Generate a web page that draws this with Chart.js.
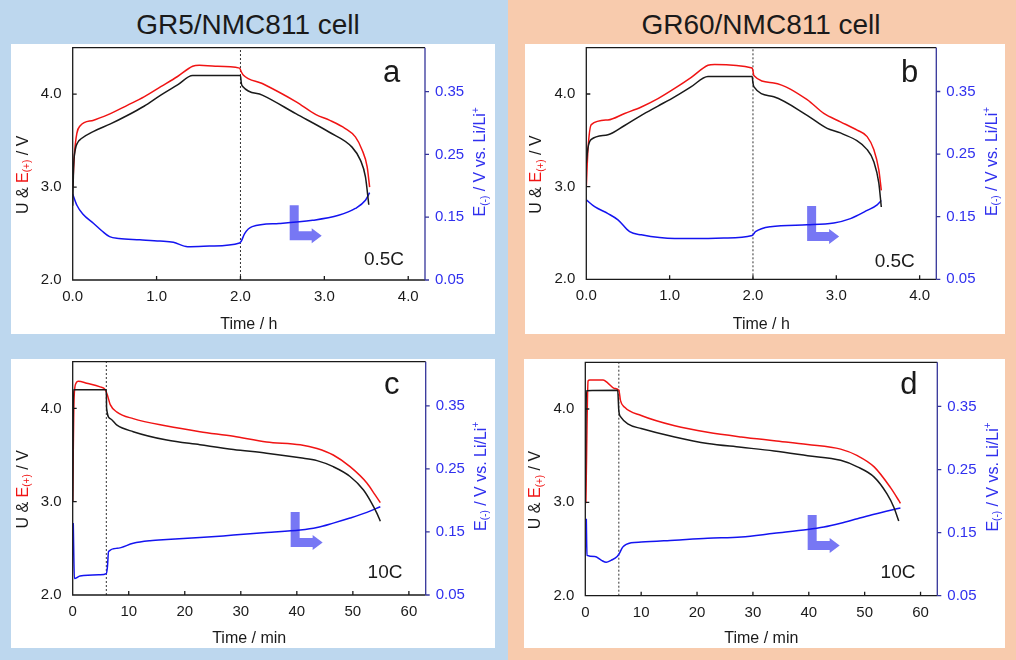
<!DOCTYPE html>
<html><head><meta charset="utf-8">
<script src="https://cdn.jsdelivr.net/npm/chart.js@4.4.0/dist/chart.umd.min.js"></script>
<style>
html,body{margin:0;padding:0;background:#fff;}
#wrap{position:relative;width:1016px;height:660px;overflow:hidden;font-family:"Liberation Sans",Arial,sans-serif;}
.bg{position:absolute;top:0;height:660px;}
.box{position:absolute;background:#fff;}
.ttl{position:absolute;top:8px;font-size:28px;color:#1a1a1a;text-align:center;width:400px;line-height:34px;}
canvas{position:absolute;}
</style></head><body>
<div id="wrap">
 <div class="bg" style="left:0;width:508px;background:#BDD7EE"></div>
 <div class="bg" style="left:508px;width:508px;background:#F8CBAD"></div>
 <div class="box" style="left:11px;top:44px;width:484px;height:290px"></div>
 <div class="box" style="left:525px;top:44px;width:480px;height:290px"></div>
 <div class="box" style="left:11px;top:359px;width:484px;height:289px"></div>
 <div class="box" style="left:524px;top:359px;width:481px;height:289px"></div>
 <div class="ttl" style="left:48px">GR5/NMC811 cell</div>
 <div class="ttl" style="left:561px">GR60/NMC811 cell</div>
 <canvas id="ca" width="508" height="340" style="left:0;top:0"></canvas>
 <canvas id="cb" width="508" height="340" style="left:508px;top:0"></canvas>
 <canvas id="cc" width="508" height="330" style="left:0;top:330px"></canvas>
 <canvas id="cd" width="508" height="330" style="left:508px;top:330px"></canvas>
</div>
<script>
// ---------- DATA ----------
// Tick labels
const hourTicks = [0, 1, 2, 3, 4];
const minTicks = [0, 10, 20, 30, 40, 50, 60];
const cellTicks = [2, 3, 4];
const negTicks = [0.05, 0.15, 0.25, 0.35];

// Panel a : GR5, 0.5C (time in h)
const aUTime = [0.0,0.01,0.03,0.06,0.1,0.25,0.45,0.65,0.85,1.05,1.25,1.43,2.0,2.01,2.03,2.26,2.66,3.06,3.33,3.43,3.49,3.53];
const aU     = [2.80,3.20,3.40,3.48,3.52,3.60,3.68,3.77,3.87,3.99,4.10,4.20,4.20,4.12,4.08,3.99,3.79,3.59,3.43,3.29,3.11,2.81];
const aPosTime = [0.0,0.02,0.05,0.09,0.25,0.45,0.65,0.85,1.05,1.25,1.43,1.51,1.7,1.99,2.01,2.03,2.26,2.66,2.9,3.06,3.25,3.37,3.45,3.51,3.54];
const aPos     = [3.0,3.35,3.58,3.66,3.72,3.79,3.88,3.97,4.08,4.19,4.30,4.31,4.30,4.28,4.24,4.21,4.115,3.92,3.78,3.72,3.63,3.54,3.40,3.22,3.0];
const aNegTime = [0.0,0.05,0.12,0.25,0.35,0.44,0.55,0.8,1.04,1.2,1.37,1.63,1.99,2.01,2.05,2.14,2.46,2.86,3.17,3.37,3.49,3.54];
const aNeg     = [0.187,0.169,0.155,0.140,0.128,0.119,0.116,0.114,0.112,0.110,0.103,0.104,0.109,0.112,0.124,0.135,0.140,0.145,0.153,0.164,0.177,0.189];

// Panel b : GR60, 0.5C (time in h)
const bUTime = [0,0.02,0.06,0.26,0.46,0.66,0.86,1.06,1.26,1.46,1.99,2.0,2.01,2.25,2.65,2.89,3.05,3.37,3.45,3.51,3.54];
const bU     = [3.25,3.42,3.51,3.56,3.66,3.77,3.87,3.97,4.08,4.19,4.19,4.12,4.08,3.97,3.77,3.63,3.58,3.40,3.27,3.04,2.78];
const bPosTime = [0,0.02,0.06,0.26,0.46,0.66,0.86,1.06,1.26,1.46,1.54,1.99,2.0,2.01,2.25,2.65,2.85,3.05,3.25,3.37,3.45,3.51,3.54];
const bPos     = [3.0,3.4,3.67,3.72,3.79,3.86,3.95,4.06,4.18,4.31,4.32,4.28,4.25,4.2,4.12,3.94,3.79,3.70,3.61,3.54,3.40,3.18,2.96];
const bNegTime = [0,0.1,0.26,0.38,0.52,0.66,1.06,1.26,1.65,1.99,2.03,2.21,2.65,2.97,3.17,3.37,3.49,3.54];
const bNeg     = [0.177,0.166,0.155,0.145,0.126,0.121,0.115,0.115,0.116,0.120,0.126,0.134,0.137,0.140,0.147,0.160,0.169,0.176];

// Panel c : GR5, 10C (time in min)
const cUTime = [0,0.15,6.0,6.05,6.7,7.9,10.8,16.8,22.7,28.7,34.6,40.6,43.6,46.5,49.5,51.9,53.4,54.3,54.9];
const cU     = [3.0,4.2,4.2,4.0,3.89,3.82,3.75,3.66,3.61,3.56,3.52,3.47,3.44,3.375,3.27,3.125,2.98,2.875,2.79];
const cPosTime = [0,0.25,0.6,1.0,2.5,4.9,5.8,6.2,6.7,7.9,10.8,16.8,22.7,28.7,34.6,40.6,43.6,46.5,49.5,52.5,54.0,54.9];
const cPos     = [3.0,4.12,4.27,4.29,4.27,4.23,4.2,4.14,4.04,3.96,3.89,3.81,3.75,3.70,3.64,3.61,3.57,3.50,3.375,3.20,3.07,2.99];
const cNegTime = [0.1,0.3,1.3,4.9,6.0,6.2,6.4,7.9,10.8,13.8,16.8,22.7,28.7,34.6,40.6,43.6,46.5,49.5,52.5,54.9];
const cNeg     = [0.164,0.076,0.080,0.082,0.084,0.095,0.119,0.124,0.132,0.136,0.138,0.141,0.145,0.149,0.153,0.157,0.164,0.172,0.181,0.190];

// Panel d : GR60, 10C (time in min)
const dUTime = [0,0.2,5.8,6.0,6.4,7.6,10,16,21.9,27.9,33.8,39.8,45.7,48.7,51.7,54.0,55.2,56.1];
const dU     = [3.0,4.195,4.2,3.98,3.91,3.84,3.79,3.70,3.63,3.59,3.55,3.50,3.45,3.38,3.27,3.09,2.95,2.80];
const dPosTime = [0.1,0.5,0.8,3.2,4.0,5.2,6.0,6.3,7.0,10,16,21.9,27.9,33.8,39.8,45.7,48.7,51.7,54.6,56.1,56.4];
const dPos     = [2.99,4.30,4.31,4.31,4.28,4.22,4.2,4.09,4.02,3.93,3.82,3.75,3.70,3.66,3.62,3.57,3.50,3.38,3.16,3.02,2.99];
const dNegTime = [0.18,0.3,1.7,2.9,3.75,4.6,5.7,6.1,6.7,8.2,10,16,21.9,27.9,33.8,39.8,42.7,45.7,48.7,51.7,56.4];
const dNeg     = [0.172,0.114,0.112,0.106,0.103,0.106,0.112,0.117,0.127,0.134,0.135,0.138,0.141,0.143,0.149,0.155,0.159,0.165,0.172,0.179,0.189];

// ---------- RENDERING ----------
const FAM = '"Liberation Sans", Arial, sans-serif';
const BLACK = '#1a1a1a', RED = '#F01414', BLUE = '#1414F0', BLUETXT = '#3030EE', NAVY = '#35359A';
const pts = (xs, ys) => xs.map((x, i) => ({x: x, y: ys[i]}));

function drawRich(ctx, cx, cy, segs, base) {
  ctx.save(); ctx.translate(cx, cy); ctx.rotate(-Math.PI / 2);
  ctx.textBaseline = 'middle'; ctx.textAlign = 'left';
  let total = 0;
  segs.forEach(s => { ctx.font = (s.size || base) + 'px ' + FAM; s.w = ctx.measureText(s.t).width; total += s.w; });
  let x = -total / 2;
  segs.forEach(s => { ctx.font = (s.size || base) + 'px ' + FAM; ctx.fillStyle = s.c; ctx.fillText(s.t, x, s.dy || 0); x += s.w; });
  ctx.restore();
}

function makeChart(id, p) {
  const deco = {
    id: 'deco' + id,
    beforeDatasetsDraw(chart) {
      const ctx = chart.ctx, sx = chart.scales.x, sy2 = chart.scales.y2;
      const x0 = sx.getPixelForValue(p.arrow[0]), y0 = sy2.getPixelForValue(p.arrow[1]);
      ctx.save();
      ctx.fillStyle = 'rgba(100,100,242,0.88)';
      ctx.beginPath();
      ctx.moveTo(x0, y0 - 35); ctx.lineTo(x0 + 9, y0 - 35); ctx.lineTo(x0 + 9, y0 - 9);
      ctx.lineTo(x0 + 22, y0 - 9); ctx.lineTo(x0 + 22, y0 - 12); ctx.lineTo(x0 + 32, y0 - 4.5);
      ctx.lineTo(x0 + 22, y0 + 3); ctx.lineTo(x0 + 22, y0); ctx.lineTo(x0, y0); ctx.closePath();
      ctx.fill();
      ctx.restore();
    },
    afterDraw(chart) {
      const ctx = chart.ctx, a = chart.chartArea;
      const sx = chart.scales.x, sy = chart.scales.y, sy2 = chart.scales.y2;
      ctx.save();
      ctx.lineWidth = 1.3;
      ctx.strokeStyle = BLACK;
      ctx.beginPath();
      ctx.moveTo(a.right, a.top); ctx.lineTo(a.left, a.top); ctx.lineTo(a.left, a.bottom); ctx.lineTo(a.right, a.bottom);
      p.xTicks.forEach(v => { const px = sx.getPixelForValue(v); ctx.moveTo(px, a.bottom); ctx.lineTo(px, a.bottom - 4); });
      cellTicks.forEach(v => { const py = sy.getPixelForValue(v); ctx.moveTo(a.left, py); ctx.lineTo(a.left + 4, py); });
      ctx.stroke();
      ctx.strokeStyle = NAVY;
      ctx.beginPath();
      ctx.moveTo(a.right, a.top); ctx.lineTo(a.right, a.bottom);
      negTicks.forEach(v => { const py = sy2.getPixelForValue(v); ctx.moveTo(a.right, py); ctx.lineTo(a.right + 4, py); });
      ctx.stroke();
      // axis titles
      const cy = (a.top + a.bottom) / 2;
      drawRich(ctx, a.left - 49.5, cy + 11, [
        {t: 'U & ', c: BLACK}, {t: 'E', c: RED}, {t: '(+)', c: RED, size: 10, dy: 4}, {t: ' / V', c: BLACK}], 16);
      drawRich(ctx, a.right + 56, cy - 2, [
        {t: 'E', c: BLUETXT}, {t: '(-)', c: BLUETXT, size: 10, dy: 4}, {t: ' / V vs. Li/Li', c: BLUETXT}, {t: '+', c: BLUETXT, size: 10, dy: -5}], 16);
      // panel letter and C-rate
      ctx.fillStyle = BLACK; ctx.textAlign = 'center'; ctx.textBaseline = 'alphabetic';
      ctx.font = '31px ' + FAM;
      ctx.fillText(p.letter, a.right + p.letterPos[0], a.top + p.letterPos[1]);
      ctx.font = '19px ' + FAM;
      ctx.fillText(p.rate, a.right + p.ratePos[0], a.bottom + p.ratePos[1]);
      ctx.restore();
    }
  };
  const tickFont = {size: 15, family: FAM};
  return new Chart(document.getElementById(id), {
    type: 'line',
    data: {
      datasets: [
        {data: pts(p.u[0], p.u[1]), borderColor: BLACK, yAxisID: 'y'},
        {data: pts(p.pos[0], p.pos[1]), borderColor: RED, yAxisID: 'y'},
        {data: pts(p.neg[0], p.neg[1]), borderColor: BLUE, yAxisID: 'y2'},
        {data: [{x: p.switchAt, y: 2}, {x: p.switchAt, y: 4.5}], borderColor: '#333', borderWidth: 1, borderDash: [2, 2], yAxisID: 'y', cubicInterpolationMode: 'default', tension: 0}
      ]
    },
    options: {
      responsive: false, animation: false, events: [],
      layout: {padding: {top: p.area.t, bottom: p.H - p.boxBottom, left: 0, right: 0}},
      elements: {point: {radius: 0}, line: {borderWidth: 1.5, fill: false, cubicInterpolationMode: 'monotone'}},
      plugins: {legend: {display: false}, tooltip: {enabled: false}},
      scales: {
        x: {
          type: 'linear', min: 0, max: p.xMax,
          afterBuildTicks: s => { s.ticks = p.xTicks.map(v => ({value: v})); },
          afterFit: s => { s.height = p.boxBottom - p.area.b; },
          ticks: {callback: v => Number(v).toFixed(p.xDec), font: tickFont, color: BLACK, padding: 8, maxRotation: 0, autoSkip: false},
          grid: {display: false, drawTicks: false}, border: {display: false},
          title: {display: true, text: p.xTitle, color: BLACK, font: {size: 16, family: FAM}, padding: {top: 0, bottom: 0}}
        },
        y: {
          type: 'linear', position: 'left', min: 2, max: 4.5,
          afterBuildTicks: s => { s.ticks = cellTicks.map(v => ({value: v})); },
          afterFit: s => { s.width = p.area.l; },
          ticks: {callback: v => Number(v).toFixed(1), font: tickFont, color: BLACK, padding: 11},
          grid: {display: false, drawTicks: false}, border: {display: false}
        },
        y2: {
          type: 'linear', position: 'right', min: 0.05, max: 0.42,
          afterBuildTicks: s => { s.ticks = negTicks.map(v => ({value: v})); },
          afterFit: s => { s.width = p.W - p.area.r; },
          ticks: {callback: v => Number(v).toFixed(2), font: tickFont, color: BLUETXT, padding: 10},
          grid: {display: false, drawTicks: false}, border: {display: false}
        }
      }
    },
    plugins: [deco]
  });
}

makeChart('ca', {W: 508, H: 340, area: {l: 72.7, r: 425, t: 47.7, b: 280}, boxBottom: 334,
  xMax: 4.2, xTicks: hourTicks, xDec: 1, xTitle: 'Time / h', switchAt: 2.0,
  u: [aUTime, aU], pos: [aPosTime, aPos], neg: [aNegTime, aNeg],
  arrow: [2.587, 0.1135], letter: 'a', letterPos: [-33.3, 34], rate: '0.5C', ratePos: [-41, -15]});
makeChart('cb', {W: 508, H: 340, area: {l: 78.3, r: 428.3, t: 47.7, b: 279.3}, boxBottom: 334,
  xMax: 4.2, xTicks: hourTicks, xDec: 1, xTitle: 'Time / h', switchAt: 2.0,
  u: [bUTime, bU], pos: [bPosTime, bPos], neg: [bNegTime, bNeg],
  arrow: [2.65, 0.111], letter: 'b', letterPos: [-26.6, 34], rate: '0.5C', ratePos: [-41.6, -12.6]});
makeChart('cc', {W: 508, H: 330, area: {l: 72.7, r: 425.7, t: 31.7, b: 265}, boxBottom: 318,
  xMax: 63, xTicks: minTicks, xDec: 0, xTitle: 'Time / min', switchAt: 6.0,
  u: [cUTime, cU], pos: [cPosTime, cPos], neg: [cNegTime, cNeg],
  arrow: [38.9, 0.126], letter: 'c', letterPos: [-34, 32.3], rate: '10C', ratePos: [-40.7, -16.7]});
makeChart('cd', {W: 508, H: 330, area: {l: 77.3, r: 429.3, t: 32.3, b: 265.7}, boxBottom: 318,
  xMax: 63, xTicks: minTicks, xDec: 0, xTitle: 'Time / min', switchAt: 6.0,
  u: [dUTime, dU], pos: [dPosTime, dPos], neg: [dNegTime, dNeg],
  arrow: [39.8, 0.1225], letter: 'd', letterPos: [-28.5, 31.7], rate: '10C', ratePos: [-39.3, -17.4]});
</script>
</body></html>
